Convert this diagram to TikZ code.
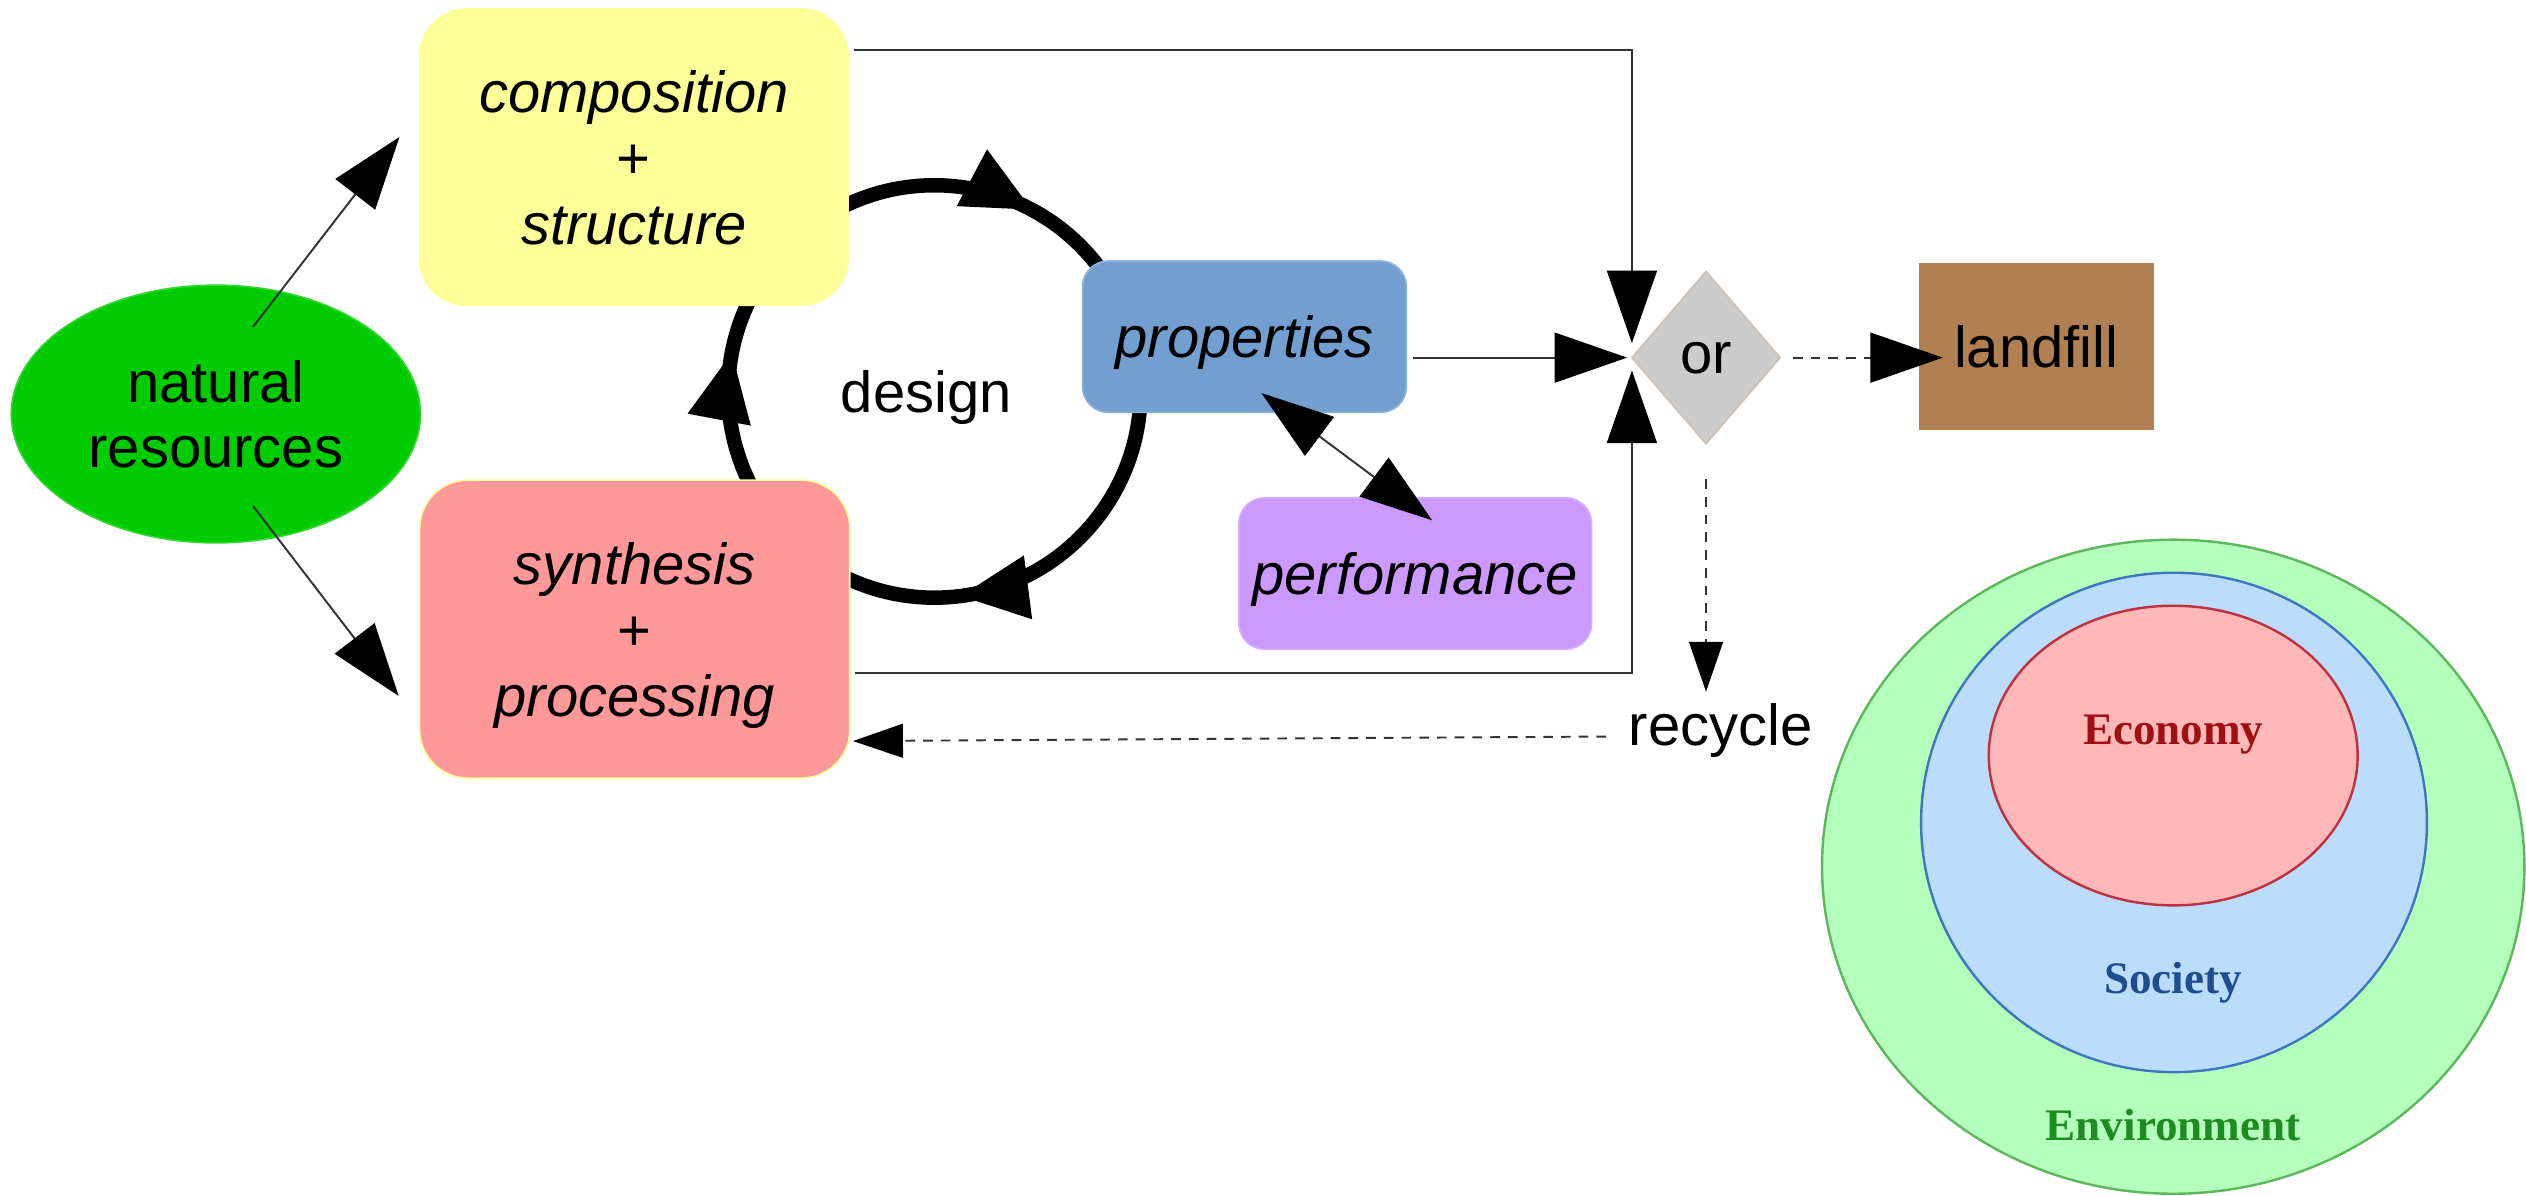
\documentclass[tikz,border=0pt]{standalone}
\usepackage{fontspec}
\setmainfont{Liberation Sans}
\newfontfamily\circlefont{Liberation Serif}
\usetikzlibrary{arrows.meta,shapes.geometric,calc,decorations.markings}

\definecolor{resgreen}{HTML}{00CC00}
\definecolor{resedge}{HTML}{33D633}
\definecolor{compyellow}{HTML}{FFFF99}
\definecolor{synthpink}{HTML}{FF9999}
\definecolor{propblue}{HTML}{729FCF}
\definecolor{propedge}{HTML}{8DB3DD}
\definecolor{perfviolet}{HTML}{CC99FF}
\definecolor{perfedge}{HTML}{D6ADFF}
\definecolor{orgrey}{HTML}{CCCCCC}
\definecolor{oredge}{HTML}{CDBFB2}
\definecolor{fillbrown}{HTML}{B07F52}
\definecolor{linegrey}{HTML}{333333}
\definecolor{envfill}{HTML}{B5FFBD}
\definecolor{envedge}{HTML}{5DB85D}
\definecolor{envtext}{HTML}{1E8C23}
\definecolor{socfill}{HTML}{BBDDFB}
\definecolor{socedge}{HTML}{3C78C0}
\definecolor{soctext}{HTML}{1F4E8F}
\definecolor{ecofill}{HTML}{FFB8B8}
\definecolor{ecoedge}{HTML}{BF3040}
\definecolor{ecotext}{HTML}{A00F14}

\tikzset{
  every node/.style={inner sep=0pt, outer sep=0pt},
  bigfont/.style={font=\fontsize{36}{41}\selectfont},
  stage/.style={bigfont, align=center, text depth=0pt, minimum width=267pt,
    minimum height=185pt, rounded corners=30pt},
  smallbox/.style={font=\fontsize{36}{41}\selectfont\itshape, text depth=0pt,
    minimum height=94pt, rounded corners=16pt, line width=1pt},
  link/.style={draw=linegrey, line width=1.2pt},
  bigtip/.style={-{Triangle[length=45pt, width=31pt, color=black]}},
  smalltip/.style={-{Triangle[length=31pt, width=21pt, color=black]}},
  dashlink/.style={link, dash pattern=on 6pt off 5pt},
  ring/.style={line width=9pt, postaction={decorate}},
  ringtip/.style={decoration={markings, mark=at position #1 with
    {\arrow{Triangle[length=42pt, width=40pt, line width=0pt]}}}},
  sphere/.style={font=\circlefont\bfseries\fontsize{28}{32}\selectfont, anchor=base},
}

\begin{document}
\begin{tikzpicture}[x=1pt, y=-1pt]
\fill[white] (0,0) rectangle (1568,742);
\path[use as bounding box] (0,0) rectangle (1568,742);

% design cycle
\coordinate (cyc) at (580,243);
\draw[ring, ringtip=0.69] ($(cyc)+(150:128)$) arc[start angle=150, end angle=209, radius=128];
\draw[ring, ringtip=0.68] ($(cyc)+(241:128)$) arc[start angle=241, end angle=325, radius=128];
\draw[ring, ringtip=0.70] ($(cyc)+(0:128)$) arc[start angle=0, end angle=118, radius=128];

% nodes
\node[ellipse, minimum width=254pt, minimum height=160pt, fill=resgreen, draw=resedge,
  line width=1pt, align=center, text depth=0pt, font=\fontsize{36}{40}\selectfont]
  (nat) at (134,257) {natural\\resources};
\node[stage, fill=compyellow] (comp) at (393.5,97.5)
  {{\itshape composition}\\+\\{\itshape structure}};
\node[stage, fill=synthpink, draw=compyellow, line width=1pt] (synth) at (394,390.5)
  {{\itshape synthesis}\\+\\{\itshape processing}};
\node[smallbox, minimum width=201pt, fill=propblue, draw=propedge] (props) at (772.5,209) {properties};
\node[smallbox, minimum width=219pt, fill=perfviolet, draw=perfedge] (perf) at (878.5,356) {performance};
\node[diamond, minimum width=92pt, minimum height=107pt, fill=orgrey, draw=oredge,
  line width=1pt, bigfont, text depth=0pt] (or) at (1059,222) {or};
\node[rectangle, minimum width=146pt, minimum height=104pt, fill=fillbrown, bigfont,
  text depth=0pt] (land) at (1264,215) {landfill};
\node[bigfont, anchor=base] (design) at (575,256) {design};
\node[bigfont, anchor=base] (rec) at (1068,462.5) {recycle};

% connectors
\draw[link, bigtip] ($(nat.center)+(23,-54)$) -- ($(comp.west)+(-12,-12.5)$);
\draw[link, bigtip] ($(nat.center)+(23,57)$) -- ($(synth.west)+(-13,41.5)$);
\draw[link, bigtip] ($(comp.east)+(3,-66.5)$) -| ($(or.west)+(0,-9)$);
\draw[link, bigtip] ($(synth.east)+(3,27.5)$) -| ($(or.west)+(0,8)$);
\draw[link, bigtip] ($(props.east)+(4,13)$) -- ($(or.west)+(-3,0)$);
\draw[dashlink, bigtip] ($(or.east)+(8,0)$) -- ($(land.west)+(15,7)$);
\draw[dashlink, smalltip] ($(or.south)+(0,22)$) -- ($(or.south |- rec.north)+(0,-7)$);
\draw[dashlink, smalltip] ($(rec.west)+(-14,4)$) -- ($(synth.east)+(2,69.5)$);
\draw[link, {Triangle[length=45pt, width=30pt, color=black]}-{Triangle[length=45pt, width=30pt, color=black]}]
  ($(props.center)+(10.5,35)$) -- ($(perf.center)+(10.5,-33)$);

% nested spheres
\draw[draw=envedge, fill=envfill, line width=1.5pt] (1349,538) ellipse [x radius=218, y radius=203];
\draw[draw=socedge, fill=socfill, line width=1.5pt] (1349.5,510.5) ellipse [x radius=157, y radius=155];
\draw[draw=ecoedge, fill=ecofill, line width=1.5pt] (1349,469) ellipse [x radius=114.5, y radius=93];
\node[sphere, text=ecotext] (eco) at (1349,462) {Economy};
\node[sphere, text=soctext] (soc) at (1349,617) {Society};
\node[sphere, text=envtext] (env) at (1349,708) {Environment};
\end{tikzpicture}
\end{document}
